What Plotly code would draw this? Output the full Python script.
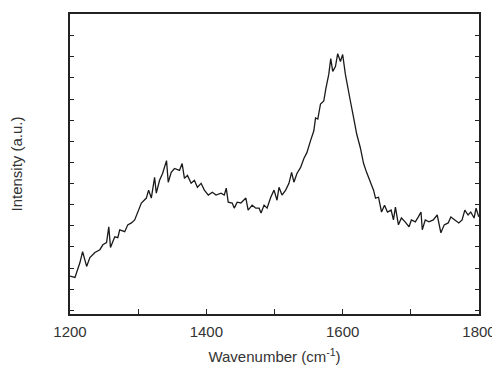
import plotly.graph_objects as go

# Raman spectrum (arbitrary intensity units)
wavenumber = [
    1200.0, 1207.3, 1214.6, 1218.5, 1224.4, 1229.2, 1236.5, 1243.8, 1248.2, 1253.6,
    1256.9, 1259.4, 1265.7, 1270.1, 1273.0, 1280.3, 1284.7, 1290.1, 1294.9, 1299.3,
    1304.7, 1312.0, 1315.3, 1319.3, 1324.1, 1326.6, 1331.4, 1335.8, 1341.6, 1344.1,
    1348.5, 1353.3, 1360.6, 1364.5, 1367.9, 1372.3, 1377.7, 1382.5, 1386.9, 1392.3,
    1397.1, 1402.9, 1408.8, 1414.2, 1421.5, 1426.3, 1429.2, 1432.1, 1438.0, 1440.9,
    1445.3, 1450.7, 1458.0, 1461.3, 1467.2, 1472.6, 1477.4, 1480.3, 1484.7, 1489.1,
    1494.5, 1499.3, 1503.7, 1506.6, 1511.0, 1516.4, 1521.2, 1525.1, 1528.5, 1532.9,
    1538.3, 1543.1, 1547.5, 1552.9, 1557.7, 1560.2, 1563.5, 1567.5, 1572.3, 1575.2,
    1579.6, 1582.5, 1585.4, 1589.4, 1592.7, 1596.7, 1600.0, 1604.0, 1607.3, 1611.3,
    1616.1, 1620.5, 1625.9, 1630.7, 1635.1, 1640.5, 1645.3, 1648.2, 1652.6, 1657.0,
    1661.4, 1665.7, 1671.1, 1674.5, 1677.4, 1681.8, 1686.2, 1691.6, 1697.4, 1700.8,
    1706.6, 1711.0, 1714.9, 1716.8, 1721.2, 1726.6, 1732.9, 1738.7, 1744.1, 1749.0,
    1754.8, 1758.7, 1764.6, 1770.4, 1775.2, 1779.2, 1784.0, 1787.9, 1792.8, 1795.7,
    1799.6,
]
intensity = [
    1.77, 1.71, 2.40, 2.91, 2.22, 2.63, 2.87, 3.00, 3.23, 3.33,
    4.07, 3.10, 3.60, 3.56, 3.93, 3.84, 4.16, 4.25, 4.39, 4.76,
    5.18, 5.41, 5.78, 5.41, 6.38, 5.64, 6.24, 6.56, 7.16, 6.15,
    6.61, 6.79, 6.70, 7.02, 6.33, 6.47, 6.10, 6.24, 5.91, 6.10,
    5.78, 5.55, 5.68, 5.55, 5.64, 5.55, 5.87, 5.22, 5.18, 4.94,
    5.22, 5.18, 5.41, 4.85, 5.08, 4.94, 4.94, 4.71, 5.08, 4.94,
    5.45, 5.78, 5.31, 5.91, 5.55, 5.78, 6.10, 6.61, 6.15, 6.56,
    6.84, 7.26, 7.53, 8.09, 8.55, 9.15, 9.10, 9.80, 9.94, 10.49,
    11.18, 11.92, 11.32, 11.55, 12.15, 11.78, 12.11, 11.18, 10.54, 9.94,
    9.15, 8.41, 7.76, 7.02, 6.61, 6.15, 5.78, 5.41, 5.45, 4.76,
    5.08, 4.76, 4.85, 4.39, 4.99, 4.16, 4.48, 4.30, 4.07, 4.39,
    4.30, 4.53, 4.76, 3.93, 4.39, 4.30, 4.39, 4.62, 3.79, 4.16,
    4.25, 4.53, 4.39, 4.25, 4.39, 4.85, 4.62, 4.76, 4.48, 4.94,
    4.53,
]

x_range = [1200, 1800]
x_major_step = 200
x_minor_step = 100

fig = go.Figure(
    go.Scatter(
        x=wavenumber,
        y=intensity,
        mode="lines",
        line=dict(color="#1a1a1a", width=1.3),
        showlegend=False,
    )
)

axis_color = "#222222"
fig.update_layout(
    width=492,
    height=359,
    margin=dict(l=62, r=19, t=4, b=52),
    paper_bgcolor="white",
    plot_bgcolor="white",
    font=dict(family="Liberation Sans, Arial, sans-serif", size=15, color="#333333"),
    xaxis=dict(
        range=x_range,
        tick0=1200,
        dtick=x_major_step,
        ticks="inside",
        ticklen=5,
        tickwidth=1.2,
        tickcolor=axis_color,
        ticklabelstandoff=3,
        ticklabeloverflow="allow",
        minor=dict(dtick=x_minor_step, ticks="inside", ticklen=5, tickwidth=1.2, tickcolor=axis_color),
        showline=True,
        linecolor=axis_color,
        linewidth=1.5,
        mirror=True,
        showgrid=False,
        zeroline=False,
        title=dict(text="Wavenumber (cm<sup>-1</sup>)", font=dict(size=15), standoff=13),
    ),
    yaxis=dict(
        range=[0, 14],
        tick0=1.155,
        dtick=0.986,
        ticks="inside",
        ticklen=4,
        tickwidth=1.2,
        tickcolor=axis_color,
        showticklabels=False,
        showline=True,
        linecolor=axis_color,
        linewidth=1.5,
        mirror="ticks",
        showgrid=False,
        zeroline=False,
        title=dict(text="Intensity (a.u.)", font=dict(size=15), standoff=43),
    ),
)

fig.write_html("out.html")
